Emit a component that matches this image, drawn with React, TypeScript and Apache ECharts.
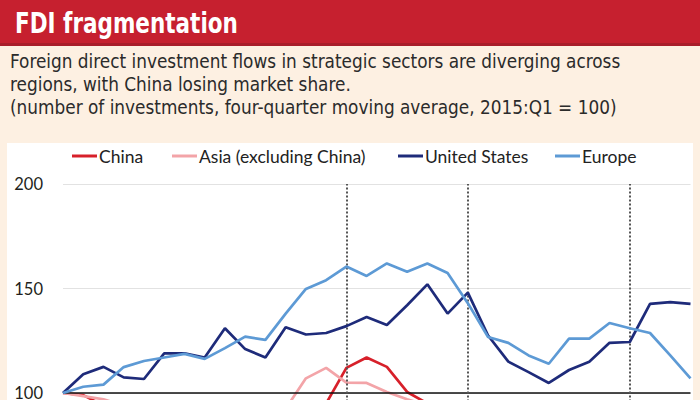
import React, { useEffect, useRef } from "react";
import * as echarts from "echarts";

const quarters: string[] = [];
for (let y = 2015; y <= 2022; y++) for (let q = 1; q <= 4; q++) quarters.push(`${y}:Q${q}`);

const seriesNames = ["China", "Asia (excluding China)", "United States", "Europe"];
const china = [100, 99, 94, 91, 89, 88, 86, 85, 84, 83, 84, 86, 88, 95, 112, 117, 112.5, 100.5, 95, 92, 88, 84, 80, 78, 76, 74, 72, 70, 68, 66, 65, 64];
const asia = [100, 98.5, 97, 94, 91, 89, 88, 87, 87, 88, 90, 92.5, 107, 112, 105, 104.8, 100.5, 97, 94, 91, 88, 86, 85, 84, 84, 85, 86, 86, 85, 84, 83, 82];
const us = [100, 109, 112.5, 107.5, 106.7, 119, 119, 117, 131, 121, 117, 131.5, 128, 128.7, 132, 136.4, 132.5, 142, 152, 138, 148, 127.5, 115, 110, 104.8, 111, 115, 124, 124.4, 142.6, 143.5, 142.6];
const europe = [100, 103, 104, 112.4, 115.3, 117, 118.7, 116.3, 121.5, 127, 125.4, 138, 149.8, 154, 160.5, 156, 162, 158, 162, 157.4, 143, 126.8, 124, 118, 114, 126, 126, 133.5, 131, 128.7, 118, 107];
const eventQuarters = [quarters[14], quarters[20], quarters[28]];
const yTicks = { min: 50, max: 200, interval: 50 };
const baseline = 100;

const title = "FDI fragmentation";
const subtitleLines = [
  "Foreign direct investment flows in strategic sectors are diverging across",
  "regions, with China losing market share.",
  "(number of investments, four-quarter moving average, 2015:Q1 = 100)",
];

const colors = ["#d7202a", "#f3a4a8", "#1e2b7a", "#5d9ad5"];
const legendLeft = [72, 172, 398, 555];

export default function App() {
  const ref = useRef<HTMLDivElement>(null);
  useEffect(() => {
    if (!ref.current) return;
    const chart = echarts.init(ref.current, null, { renderer: "svg" });
    const values = [china, asia, us, europe];
    const condensed = "'DejaVu Sans Condensed', 'Liberation Sans Narrow', sans-serif";
    chart.setOption({
      animation: false,
      graphic: [
        { type: "rect", z: -10, shape: { x: 0, y: 0, width: 700, height: 520 }, style: { fill: "#fdf0e2" } },
        { type: "rect", z: -9, shape: { x: 0, y: 0, width: 700, height: 43 }, style: { fill: "#c6202f" } },
        { type: "rect", z: -9, shape: { x: 0, y: 43, width: 700, height: 3 }, style: { fill: "#a91d2a" } },
        { type: "rect", z: -9, shape: { x: 7, y: 143, width: 686, height: 400 }, style: { fill: "#ffffff" } },
        {
          type: "text", z: 10, x: 15, y: 23, scaleX: 0.87,
          style: { text: title, fill: "#ffffff", fontSize: 27.5, fontWeight: "bold", fontFamily: condensed, verticalAlign: "middle" },
        },
        ...subtitleLines.map((t, i) => ({
          type: "text", z: 10, x: 10, y: 60.5 + i * 23, scaleX: 0.99,
          style: { text: t, fill: "#2b2b2b", fontSize: 19, fontFamily: condensed, verticalAlign: "middle" },
        })),
      ],
      legend: seriesNames.map((name, i) => ({
        left: legendLeft[i],
        top: 147,
        padding: 0,
        icon: "rect",
        itemWidth: 25,
        itemHeight: 3,
        textStyle: { fontSize: 17.5, fontFamily: "Lato", color: "#222", padding: [0, 0, 0, -3] },
        data: [name],
      })),
      grid: { left: 63, right: 9.5, top: 184, bottom: 22.5 },
      xAxis: {
        type: "category",
        data: quarters,
        boundaryGap: false,
        axisLine: { show: false },
        axisTick: { show: false },
        axisLabel: { show: false },
        splitLine: { show: false },
      },
      yAxis: {
        type: "value",
        min: yTicks.min,
        max: yTicks.max,
        interval: yTicks.interval,
        axisLine: { show: false },
        axisTick: { show: false },
        axisLabel: {
          showMinLabel: false,
          fontSize: 16.5,
          lineHeight: 12,
          padding: [0, 0, 5, 0],
          fontFamily: "Lato",
          color: "#231f20",
          margin: 20,
        },
        splitLine: { lineStyle: { color: "#e2e2e2", width: 1.2 } },
      },
      series: seriesNames.map((name, i) => ({
        name,
        type: "line",
        data: values[i],
        symbol: "none",
        lineStyle: { width: 2.7, color: colors[i] },
        itemStyle: { color: colors[i] },
        z: 3 + i,
        ...(i === 0
          ? {
              markLine: {
                silent: true,
                symbol: "none",
                label: { show: false },
                data: [
                  { yAxis: baseline, lineStyle: { color: "#111", type: "solid", width: 1.5 } },
                  ...eventQuarters.map((q) => ({ xAxis: q, lineStyle: { color: "#555", type: [2, 2], width: 2 } })),
                ],
              },
            }
          : {}),
      })),
    });
    return () => chart.dispose();
  }, []);
  return (
    <div style={{ position: "absolute", left: 0, top: 0, width: 700, height: 400, overflow: "hidden", background: "#fdf0e2" }}>
      <div ref={ref} style={{ width: 700, height: 520 }} />
    </div>
  );
}
